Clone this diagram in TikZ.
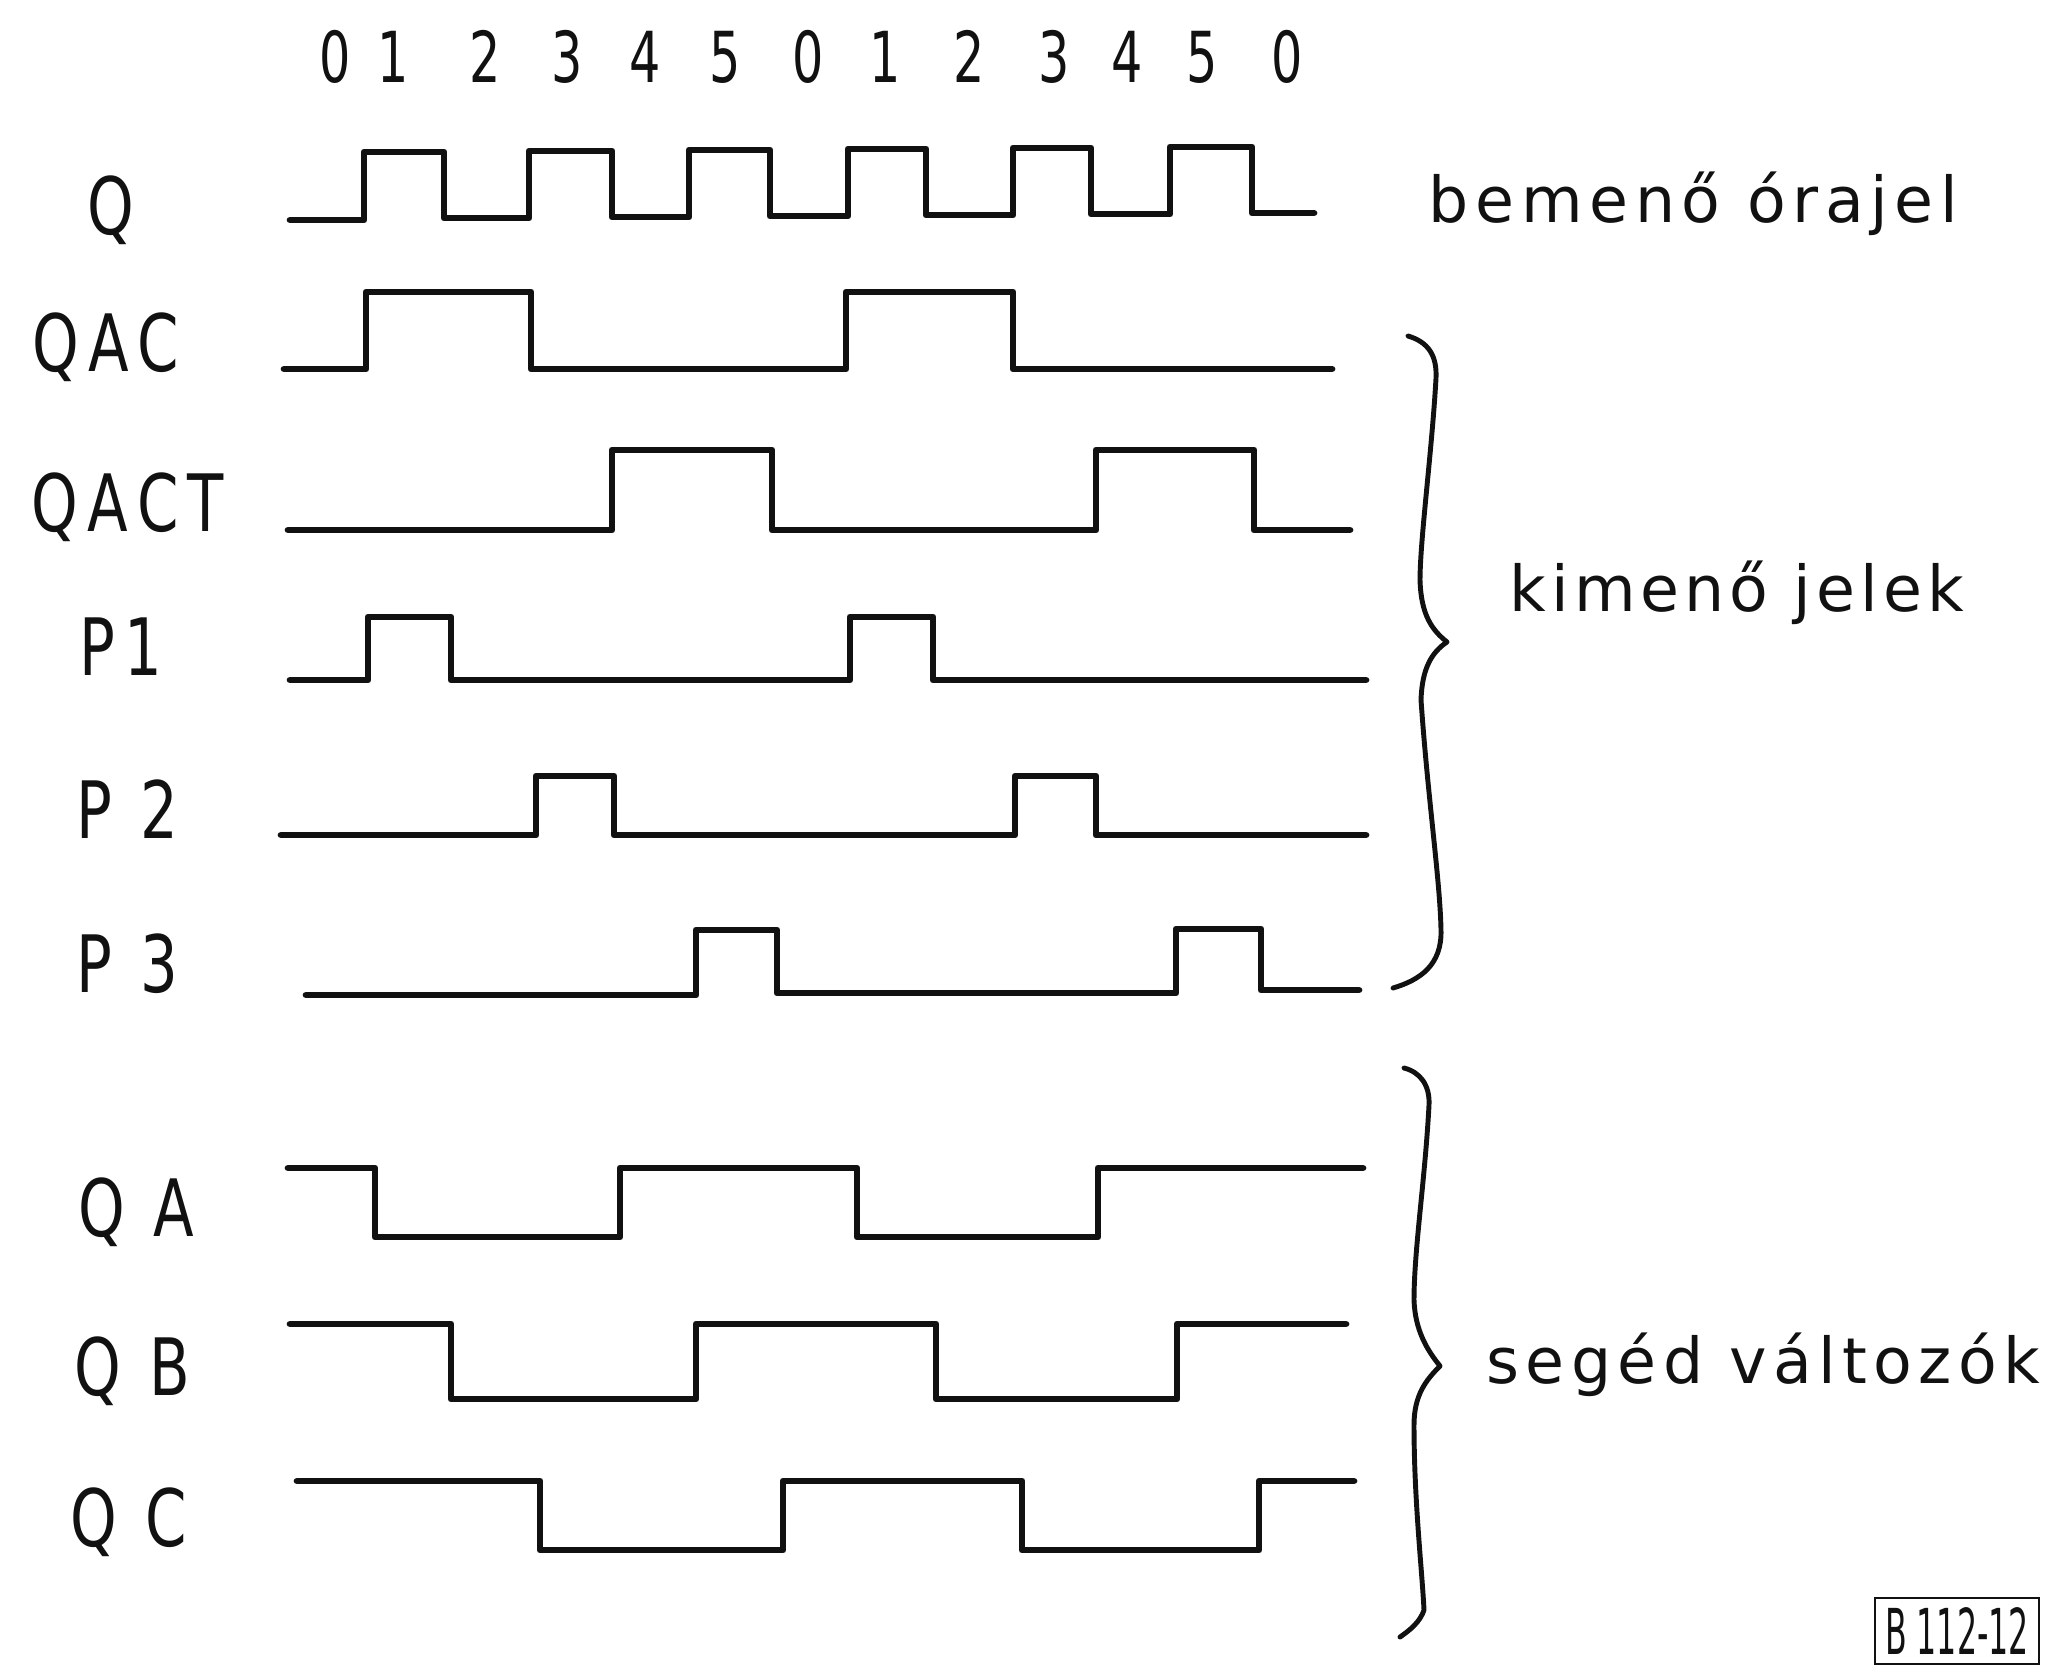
\documentclass[tikz,border=0pt]{standalone}
\usepackage{fontspec}
\setmainfont{DejaVu Sans}
\newfontfamily\sigfont{DejaVu Sans}[FakeStretch=0.75,LetterSpace=12]
\newfontfamily\numfont{DejaVu Sans}[FakeStretch=0.7]
\newfontfamily\notefont{DejaVu Sans}
\newfontfamily\tagfont{DejaVu Sans}[FakeStretch=0.5]
\definecolor{ink}{HTML}{111111}
\tikzset{
  wave/.style={draw=ink,line width=1.9pt,line join=round,line cap=round},
  brace/.style={draw=ink,line width=1.4pt,line cap=round,line join=round},
  sig/.style={font=\sigfont\fontsize{22.5}{26}\selectfont,text=ink,inner sep=0pt,anchor=base},
  tick/.style={font=\numfont\fontsize{20}{24}\selectfont,text=ink,inner sep=0pt,anchor=base},
  note/.style={font=\notefont\fontsize{18}{22}\selectfont,text=ink,inner sep=0pt,anchor=base west},
  tag/.style={draw=ink,line width=0.7pt,font=\tagfont\fontsize{18}{22}\selectfont,text=ink,inner sep=0pt,minimum width=1.64cm,minimum height=0.66cm}
}

\begin{document}
\begin{tikzpicture}[x=0.01cm,y=-0.01cm]
\useasboundingbox (0,0) rectangle (2046,1678);
% state numbers over the clock
\foreach \x/\d [count=\i] in {335/0,393/1,485/2,567/3,645/4,725/5,808/0,885/1,969/2,1054/3,1127/4,1202/5,1287/0}
  \node[tick] (num\i) at (\x,82) {\d};
% signal names
\node[sig] (lQ)    at (111,234)  {Q};
\node[sig] (lQAC)  at (106,371)  {QAC};
\node[sig] (lQACT) at (128,531)  {QACT};
\node[sig] (lP1)   at (121,675)  {P1};
\node[sig] (lP2)   at (127,838)  {P 2};
\node[sig] (lP3)   at (127,992)  {P 3};
\node[sig] (lQA)   at (136,1236) {Q A};
\node[sig] (lQB)   at (132,1395) {Q B};
\node[sig] (lQC)   at (129,1546) {Q C};
% clock
\draw[wave] (290,220) -| (364,152) -| (444,218) -| (529,151) -| (612,217) -| (689,150) -| (770,216) -| (848,149) -| (926,215) -| (1013,148) -| (1091,214) -| (1170,147) -| (1252,213) -- (1314,213);
% outputs
\draw[wave] (284,369) -| (366,292) -| (531,369) -| (846,292) -| (1013,369) -- (1332,369);
\draw[wave] (288,530) -| (612,450) -| (772,530) -| (1096,450) -| (1254,530) -- (1350,530);
\draw[wave] (290,680) -| (368,617) -| (451,680) -| (850,617) -| (933,680) -- (1366,680);
\draw[wave] (281,835) -| (536,776) -| (614,835) -| (1015,776) -| (1096,835) -- (1366,835);
\draw[wave] (306,995) -| (696,930) -| (777,993) -| (1176,929) -| (1261,990) -- (1359,990);
% helper variables
\draw[wave] (288,1168) -| (375,1237) -| (620,1168) -| (857,1237) -| (1098,1168) -- (1363,1168);
\draw[wave] (290,1324) -| (451,1399) -| (696,1324) -| (936,1399) -| (1177,1324) -- (1346,1324);
\draw[wave] (297,1481) -| (540,1550) -| (783,1481) -| (1022,1550) -| (1259,1481) -- (1354,1481);
% braces
\draw[brace] (1408,336) .. controls (1428,342) and (1437,355) .. (1436,378)
  .. controls (1432,450) and (1420,540) .. (1420,580)
  .. controls (1421,615) and (1432,630) .. (1447,642)
  .. controls (1432,652) and (1422,668) .. (1421,700)
  .. controls (1428,800) and (1440,880) .. (1441,930)
  .. controls (1442,965) and (1420,980) .. (1393,988);
\draw[brace] (1404,1068) .. controls (1420,1072) and (1430,1085) .. (1429,1105)
  .. controls (1425,1180) and (1414,1250) .. (1414,1300)
  .. controls (1415,1330) and (1427,1350) .. (1440,1366)
  .. controls (1426,1380) and (1414,1395) .. (1414,1425)
  .. controls (1414,1500) and (1422,1570) .. (1424,1610)
  .. controls (1420,1622) and (1410,1630) .. (1400,1637);
% notes
\node[note] (tin)  at (1428,222)  {\addfontfeature{LetterSpace=10.5}bemenő órajel};
\node[note] (tout) at (1509,611)  {\addfontfeature{LetterSpace=8}kimenő jelek};
\node[note] (taux) at (1486,1383) {\addfontfeature{LetterSpace=10}segéd változók};
\node[tag]  (fig)  at (1957,1631) {B 112-12};
\end{tikzpicture}
\end{document}
